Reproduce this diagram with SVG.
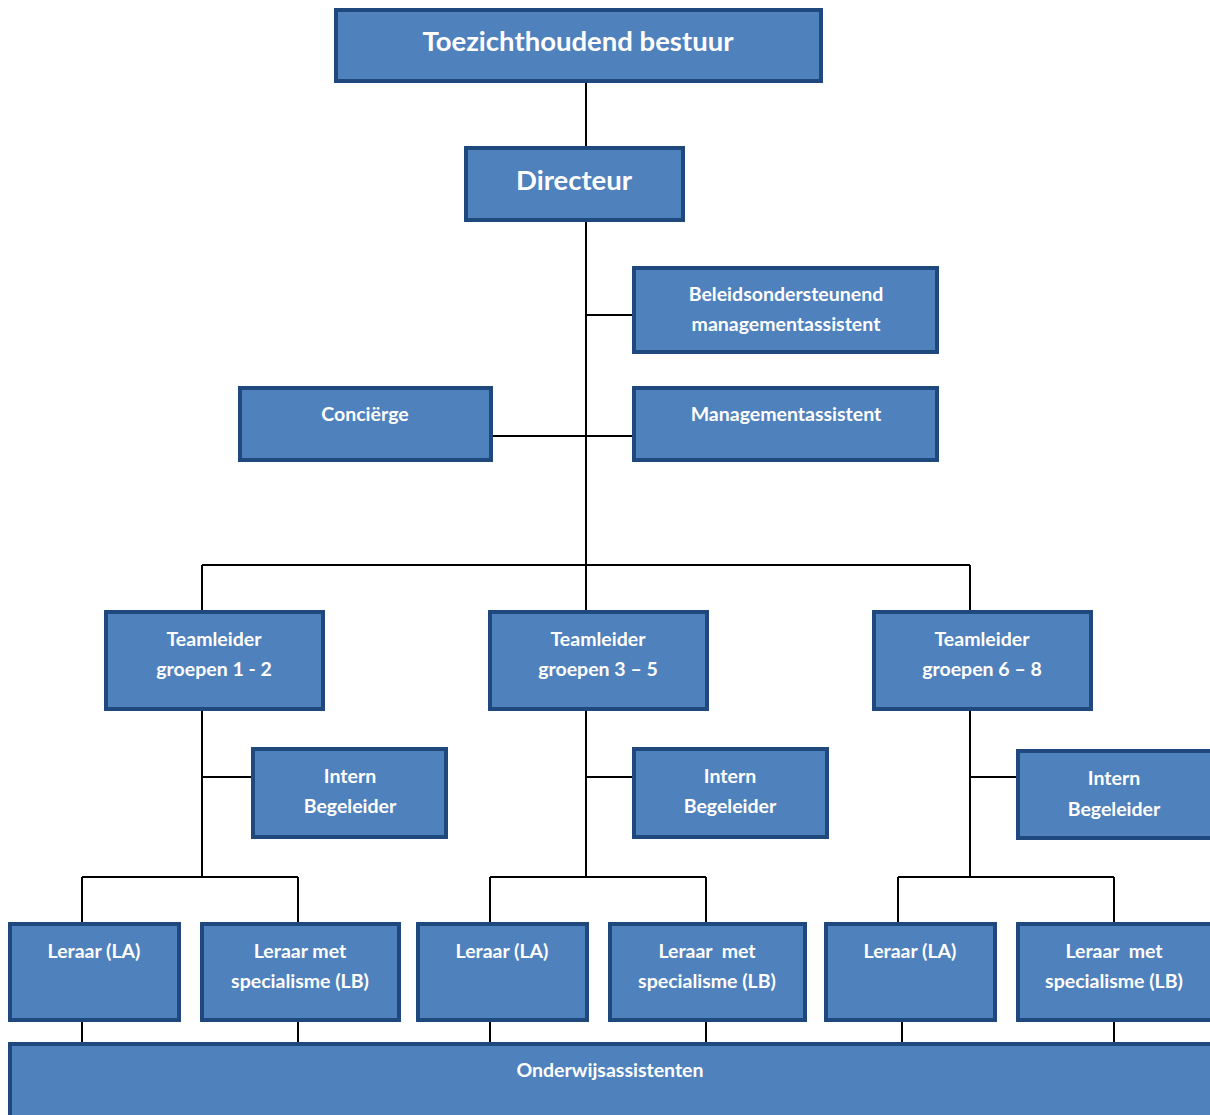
<svg xmlns="http://www.w3.org/2000/svg" width="1210" height="1115" viewBox="0 0 1210 1115">
<style>
.box{fill:#4F81BD;stroke:#1F497D;stroke-width:4;}
.t{fill:#fff;font-family:Lato,"Open Sans","Liberation Sans",sans-serif;font-weight:bold;text-anchor:middle;font-size:19.5px;}
.big{font-size:27.5px;}
.c{stroke:#000;stroke-width:2;fill:none;}
</style>
<rect width="1210" height="1115" fill="#fff"/>
<g id="connectors">
<path class="c" d="M586 82V565M586 315H635M492 436H635M202 565H970M202 565V613M586 565V613M970 565V613"/>
<path class="c" d="M202 708V877M202 777H254M82 877H298M82 877V925M298 877V925"/>
<path class="c" d="M586 708V877M586 777H635M490 877H706M490 877V925M706 877V925"/>
<path class="c" d="M970 708V877M970 777H1019M898 877H1114M898 877V925M1114 877V925"/>
<path class="c" d="M82 1019V1045M298 1019V1045M490 1019V1045M706 1019V1045M902 1019V1045M1114 1019V1045"/>
</g>
<g id="toezicht"><rect class="box" x="336" y="10" width="485" height="71"/><text class="t big" x="578" y="51">Toezichthoudend bestuur</text></g>
<g id="directeur"><rect class="box" x="466" y="148" width="217" height="72"/><text class="t big" x="574" y="190">Directeur</text></g>
<g id="beleids"><rect class="box" x="634" y="268" width="303" height="84"/><text class="t" x="786" y="301">Beleidsondersteunend</text><text class="t" x="786" y="331">managementassistent</text></g>
<g id="concierge"><rect class="box" x="240" y="388" width="251" height="72"/><text class="t" x="365" y="421">Conciërge</text></g>
<g id="management"><rect class="box" x="634" y="388" width="303" height="72"/><text class="t" x="786" y="421">Managementassistent</text></g>
<g id="tl1"><rect class="box" x="106" y="612" width="217" height="97"/><text class="t" x="214" y="646">Teamleider</text><text class="t" x="214" y="676">groepen 1 - 2</text></g>
<g id="tl2"><rect class="box" x="490" y="612" width="217" height="97"/><text class="t" x="598" y="646">Teamleider</text><text class="t" x="598" y="676">groepen 3 – 5</text></g>
<g id="tl3"><rect class="box" x="874" y="612" width="217" height="97"/><text class="t" x="982" y="646">Teamleider</text><text class="t" x="982" y="676">groepen 6 – 8</text></g>
<g id="ib1"><rect class="box" x="253" y="749" width="193" height="88"/><text class="t" x="350" y="783">Intern</text><text class="t" x="350" y="813">Begeleider</text></g>
<g id="ib2"><rect class="box" x="634" y="749" width="193" height="88"/><text class="t" x="730" y="783">Intern</text><text class="t" x="730" y="813">Begeleider</text></g>
<g id="ib3"><rect class="box" x="1018" y="751" width="196" height="87"/><text class="t" x="1114" y="785">Intern</text><text class="t" x="1114" y="816">Begeleider</text></g>
<g id="la1"><rect class="box" x="10" y="924" width="169" height="96"/><text class="t" x="94" y="958">Leraar (LA)</text></g>
<g id="lb1"><rect class="box" x="202" y="924" width="197" height="96"/><text class="t" x="300" y="958">Leraar met</text><text class="t" x="300" y="988">specialisme (LB)</text></g>
<g id="la2"><rect class="box" x="418" y="924" width="169" height="96"/><text class="t" x="502" y="958">Leraar (LA)</text></g>
<g id="lb2"><rect class="box" x="610" y="924" width="195" height="96"/><text class="t" x="707" y="958" style="white-space:pre">Leraar  met</text><text class="t" x="707" y="988">specialisme (LB)</text></g>
<g id="la3"><rect class="box" x="826" y="924" width="169" height="96"/><text class="t" x="910" y="958">Leraar (LA)</text></g>
<g id="lb3"><rect class="box" x="1018" y="924" width="196" height="96"/><text class="t" x="1114" y="958" style="white-space:pre">Leraar  met</text><text class="t" x="1114" y="988">specialisme (LB)</text></g>
<g id="onderwijs"><rect class="box" x="10" y="1044" width="1204" height="75"/><text class="t" x="610" y="1077">Onderwijsassistenten</text></g>
</svg>
